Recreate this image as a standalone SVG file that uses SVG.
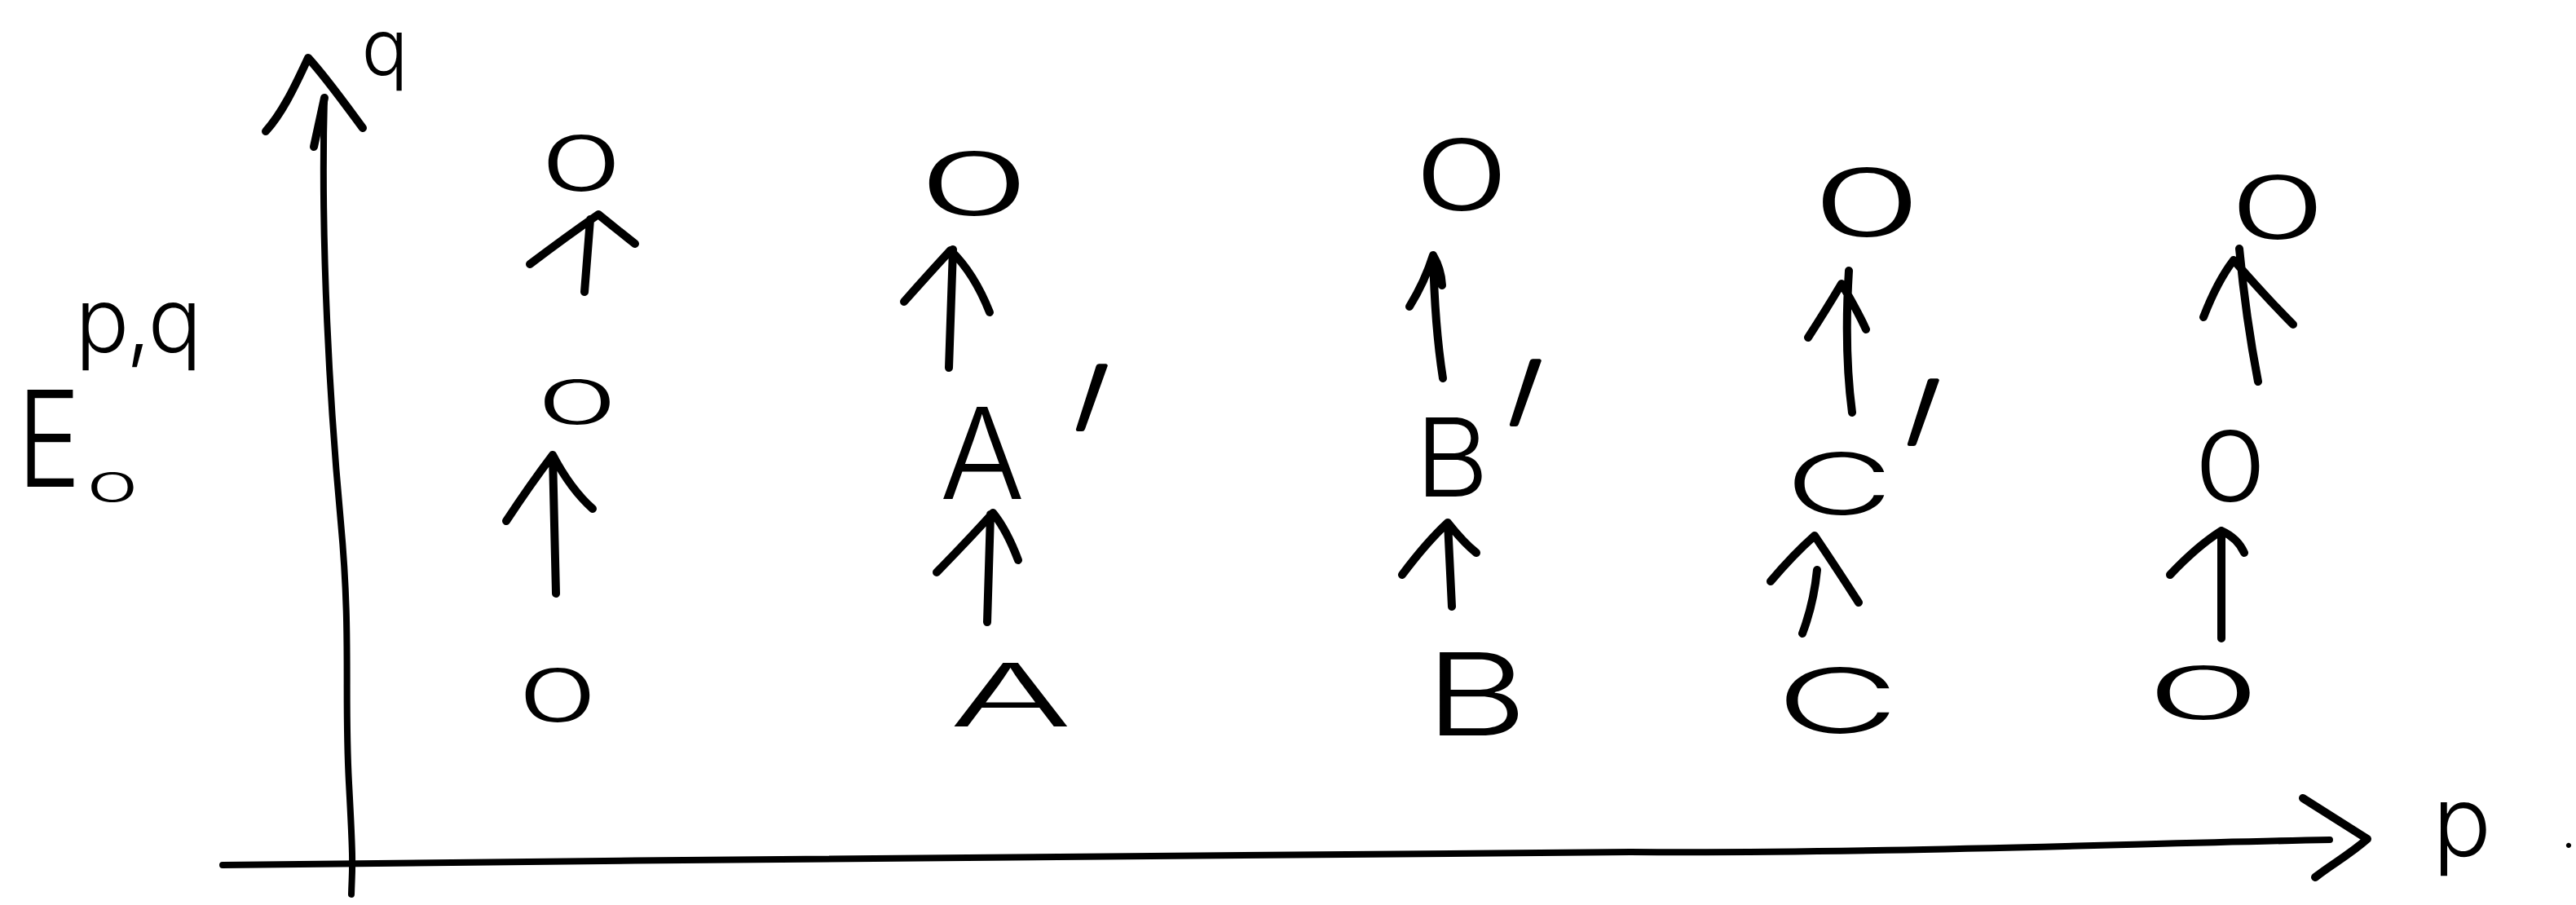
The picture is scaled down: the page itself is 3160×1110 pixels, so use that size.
<svg xmlns="http://www.w3.org/2000/svg" width="3160" height="1110" viewBox="0 0 3160 1110">
<style>
.pen{fill:none;stroke:#000;stroke-width:10;stroke-linecap:round;stroke-linejoin:round}
.axis{fill:none;stroke:#000;stroke-width:8;stroke-linecap:round;stroke-linejoin:round}
text{font-family:Inter,"Liberation Sans","DejaVu Sans",sans-serif;font-weight:300;fill:#000;text-anchor:middle}
.prime{font-size:320px;font-weight:100;stroke:#000;stroke-width:6;stroke-linejoin:round}
</style>
<rect width="3160" height="1110" fill="#fff"/>
<g id="connectors">
<path class="axis" d="M398 120 C393 300,405 500,418 640 S422 850,428 960 S432 1060,431 1097"/>
<path class="pen" d="M385 180 L398 120"/>
<path class="pen" d="M326 161 C345 140,360 110,378 71 C400 95,425 130,445 157"/>
<path class="axis" d="M273 1061 C900 1055,1700 1043,2000 1045 S2600 1035,2858 1030"/>
<path class="pen" d="M2825 979 L2904 1029 C2880 1050,2860 1060,2840 1076"/>
<path class="pen" d="M717 358 L724 269 M650 324 Q695 290 734 263 Q755 280 779 299"/>
<path class="pen" d="M682 728 L678 559 M621 639 Q650 595 678 558 Q700 600 727 624"/>
<path class="pen" d="M1164 451 L1169 306 M1109 370 Q1140 335 1166 307 Q1195 335 1214 383"/>
<path class="pen" d="M1211 763 L1215 631 M1149 702 Q1190 660 1218 629 Q1235 650 1249 687"/>
<path class="pen" d="M1770 464 Q1760 400 1758 313 M1729 376 Q1748 345 1758 313 Q1768 330 1769 350"/>
<path class="pen" d="M1781 744 L1776 641 M1720 705 Q1750 665 1776 641 Q1795 665 1811 678"/>
<path class="pen" d="M2272 506 Q2262 430 2268 332 M2218 414 Q2240 380 2259 348 Q2278 380 2289 404"/>
<path class="pen" d="M2211 777 Q2225 740 2229 699 M2172 713 Q2200 680 2226 657 Q2255 700 2280 739"/>
<path class="pen" d="M2770 468 Q2755 390 2747 305 M2703 389 Q2720 345 2740 319 Q2780 365 2813 398"/>
<path class="pen" d="M2725 783 L2725 651 M2662 705 Q2695 670 2725 651 Q2745 660 2753 678"/>
</g>
<g id="label-E">
<text font-size="164" transform="translate(60 597) scale(0.8 1)">E</text>
<text font-size="50" transform="translate(138 616) scale(2.1 1)">0</text>
<text font-size="110" x="168" y="432" letter-spacing="-4">p,q</text>
</g>
<g id="label-q"><text font-size="95" x="472" y="92">q</text></g>
<g id="label-p"><text font-size="120" x="3020" y="1050">p</text><text font-size="60" x="3151" y="1040">.</text></g>
<g id="n-1-0"><text font-size="89" transform="translate(684 885) scale(1.8 1)">0</text></g>
<g id="n-1-1"><text font-size="74" transform="translate(708 520) scale(2.2 1)">0</text></g>
<g id="n-1-2"><text font-size="94" transform="translate(713 234) scale(1.75 1)">0</text></g>
<g id="n-2-0"><text font-size="107" transform="translate(1240 891) scale(2.1 1)">A</text></g>
<g id="n-2-1"><text font-size="155" transform="translate(1205 612)">A</text><text class="prime" transform="translate(1298 682) skewX(-12)">′</text></g>
<g id="n-2-2"><text font-size="107" transform="translate(1195 264) scale(2.1 1)">0</text></g>
<g id="n-3-0"><text font-size="140" transform="translate(1811 902) scale(1.4 1)">B</text></g>
<g id="n-3-1"><text font-size="133" transform="translate(1781 609) scale(1.05 1)">B</text><text class="prime" transform="translate(1830 676) skewX(-12)">′</text></g>
<g id="n-3-2"><text font-size="120" transform="translate(1793 258) scale(1.6 1)">0</text></g>
<g id="n-4-0"><text font-size="110" transform="translate(2254 899) scale(1.9 1)">C</text></g>
<g id="n-4-1"><text font-size="104" transform="translate(2256 631) scale(1.75 1)">C</text><text class="prime" transform="translate(2318 700) skewX(-12)">′</text></g>
<g id="n-4-2"><text font-size="116" transform="translate(2290 290) scale(1.9 1)">0</text></g>
<g id="n-5-0"><text font-size="89" transform="translate(2703 882) scale(2.6 1)">0</text></g>
<g id="n-5-1"><text font-size="120" transform="translate(2736 615) scale(1.2 1)">0</text></g>
<g id="n-5-2"><text font-size="107" transform="translate(2794 293) scale(1.8 1)">0</text></g>
</svg>
